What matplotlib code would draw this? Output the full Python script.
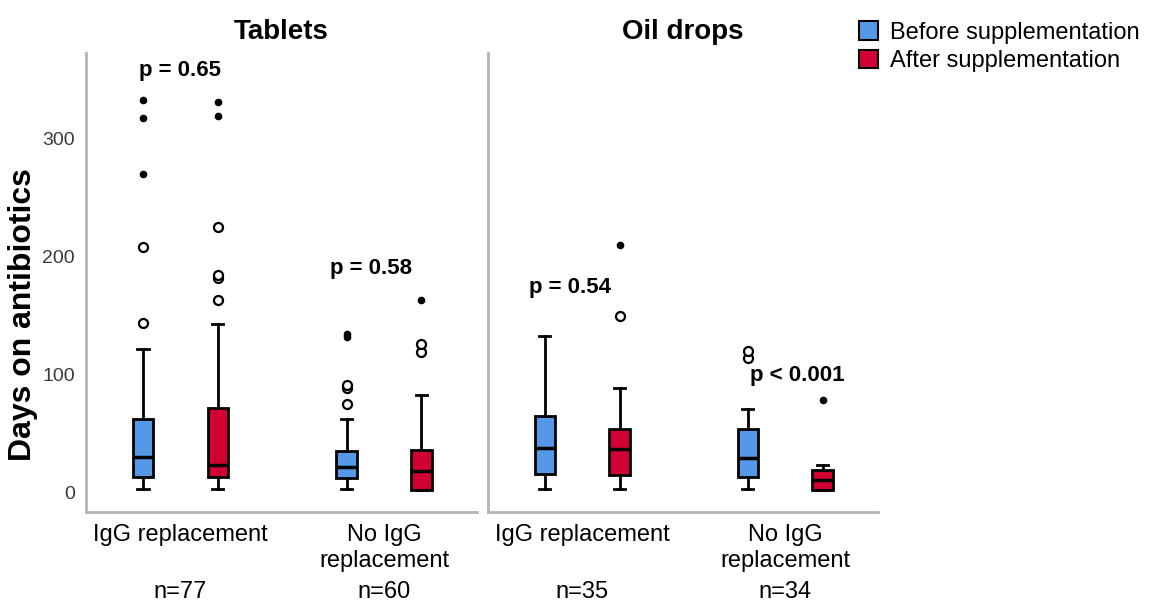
import matplotlib
matplotlib.use('Agg')
import matplotlib.pyplot as plt
from matplotlib.patches import Patch

plt.rcParams['font.family'] = ['Liberation Sans', 'DejaVu Sans']

# Dados (dias com antibióticos)
paineis = ['Tablets', 'Oil drops']
categorias = ['IgG replacement', 'No IgG\nreplacement']
n_tablets = ['n=77', 'n=60']
n_oil = ['n=35', 'n=34']

# cada caixa: [whislo, q1, mediana, q3, whishi]
tab_antes = [[3, 13, 30, 62, 122], [3, 12, 22, 35, 62]]
tab_depois = [[3, 13, 23, 72, 143], [2, 2, 18, 36, 83]]
oil_antes = [[3, 16, 38, 65, 133], [3, 13, 29, 54, 71]]
oil_depois = [[3, 15, 37, 54, 89], [2, 2, 11, 19, 23]]

# outliers (círculos) e extremos (asteriscos)
tab_antes_circ = [[144, 208], [75, 89, 91]]
tab_antes_ext = [[270, 317, 333], [132, 134]]
tab_depois_circ = [[163, 182, 184, 225], [119, 126]]
tab_depois_ext = [[319, 331], [163]]
oil_antes_circ = [[], [114, 120]]
oil_antes_ext = [[], []]
oil_depois_circ = [[150], []]
oil_depois_ext = [[210], [78]]

p_tablets = ['p = 0.65', 'p = 0.58']
p_tablets_y = [358, 190]
p_oil = ['p = 0.54', 'p < 0.001']
p_oil_y = [174, 99]

cor_antes = '#5598e8'
cor_depois = '#d20032'
cinza = '#b4b4b4'

fig = plt.figure(figsize=(11.62, 6.04), dpi=100)
W, H = 1162, 604
ax1 = fig.add_axes([86 / W, (H - 512) / H, 391 / W, 459 / H])
ax2 = fig.add_axes([488 / W, (H - 512) / H, 390 / W, 459 / H])

dados = [
    (ax1, tab_antes, tab_depois, tab_antes_circ, tab_antes_ext, tab_depois_circ, tab_depois_ext,
     n_tablets, p_tablets, p_tablets_y, [0, -0.064]),
    (ax2, oil_antes, oil_depois, oil_antes_circ, oil_antes_ext, oil_depois_circ, oil_depois_ext,
     n_oil, p_oil, p_oil_y, [-0.06, 0.06]),
]

desloc = 0.184
for k, (ax, antes, depois, a_circ, a_ext, d_circ, d_ext, n_lab, p_lab, p_y, p_dx) in enumerate(dados):
    for serie, cor, sinal, circ, ext in [(antes, cor_antes, -1, a_circ, a_ext),
                                         (depois, cor_depois, 1, d_circ, d_ext)]:
        stats = []
        for v in serie:
            stats.append({'whislo': v[0], 'q1': v[1], 'med': v[2], 'q3': v[3],
                          'whishi': v[4], 'fliers': []})
        pos = [i + sinal * desloc for i in range(len(serie))]
        ax.bxp(stats, positions=pos, widths=0.1, capwidths=0.055, patch_artist=True,
               showfliers=False,
               boxprops=dict(facecolor=cor, edgecolor='black', linewidth=2),
               medianprops=dict(color='black', linewidth=2.5),
               whiskerprops=dict(color='black', linewidth=2),
               capprops=dict(color='black', linewidth=2))
        for i in range(len(serie)):
            if circ[i]:
                ax.plot([pos[i]] * len(circ[i]), circ[i], 'o', ms=6.5, mfc='white',
                        mec='black', mew=1.6, zorder=3)
            if ext[i]:
                ax.plot([pos[i]] * len(ext[i]), ext[i], 'o', ms=4.5, mfc='black',
                        mec='black', zorder=3)

    for i in range(2):
        ax.text(i + p_dx[i], p_y[i], p_lab[i], ha='center', va='center',
                fontsize=16, fontweight='bold')
        ax.text(i, -0.175, n_lab[i], transform=ax.get_xaxis_transform(),
                ha='center', va='center', fontsize=17)

    ax.set_xlim(-0.464, 1.457)
    ax.set_ylim(-16.5, 372.5)
    ax.set_xticks([0, 1])
    ax.set_xticklabels(categorias, fontsize=17)
    ax.tick_params(axis='x', length=0, pad=9)
    ax.set_title(paineis[k], fontsize=20, fontweight='bold', pad=10)
    for lado in ['top', 'right']:
        ax.spines[lado].set_visible(False)
    for lado in ['left', 'bottom']:
        ax.spines[lado].set_color(cinza)
        ax.spines[lado].set_linewidth(2)

ax1.set_yticks([0, 100, 200, 300])
ax1.tick_params(axis='y', length=0, pad=8, labelsize=14, labelcolor='#3a3a3a')
ax1.set_ylabel('Days on antibiotics', fontsize=23, fontweight='bold')
ax1.yaxis.set_label_coords(-0.122, 0.431)
ax2.set_yticks([])

legenda = [Patch(facecolor=cor_antes, edgecolor='black', linewidth=1.5, label='Before supplementation'),
           Patch(facecolor=cor_depois, edgecolor='black', linewidth=1.5, label='After supplementation')]
fig.legend(handles=legenda, loc='upper left', bbox_to_anchor=(850 / W, 1 - 12 / H),
           frameon=False, fontsize=17, handlelength=0.8, handleheight=0.8,
           handletextpad=0.5, labelspacing=0.25, borderaxespad=0)

plt.savefig('out.png', dpi=100)
